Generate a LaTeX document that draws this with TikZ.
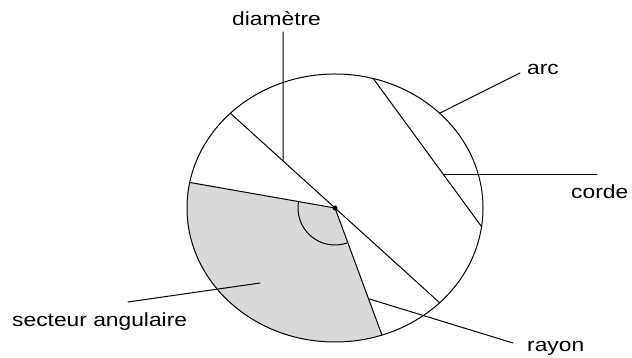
\documentclass[tikz,border=0pt]{standalone}
\usepackage{fontspec}
\newfontfamily\lblfont[FakeStretch=1.2]{Liberation Sans}
\usetikzlibrary{calc}
\tikzset{
  cline/.style={draw=black, line width=1pt},
  ptline/.style={draw=black, line width=1pt},
  secfill/.style={fill=black!15},
  lbl/.style={anchor=base west, inner sep=0pt,
    font=\lblfont\fontsize{19}{22}\selectfont},
  every picture/.style={line cap=round},
}
\begin{document}
\begin{tikzpicture}[x=1pt, y=1pt]
\useasboundingbox (0,0) rectangle (632,358);

% Points on the circle.
\coordinate (O) at (335,150);
\path (O) ++(169:148 and 134) coordinate (r1);
\path (O) ++(-71.5:148 and 134) coordinate (r2);
\path (O) ++(135:148 and 134) coordinate (d1);
\path (O) ++(315:148 and 134) coordinate (d2);
\path (O) ++(75:148 and 134) coordinate (c1);
\path (O) ++(-8:148 and 134) coordinate (c2);
\path (O) ++(45:148 and 134) coordinate (apt);

% Shaded sector, circle, diameter, chord, radii.
\fill[secfill] (O) -- (r1)
  arc[start angle=169, end angle=288.5, x radius=148, y radius=134] -- cycle;
\draw[cline] (O) ellipse [x radius=148, y radius=134];
\draw[cline] (d1) -- (d2);
\draw[cline] (c1) -- (c2);
\draw[cline] (r1) -- (O) -- (r2);
\draw[cline] (O) ++(170:37) arc[start angle=170, end angle=289, radius=37];
\fill (O) circle (2.5);

% Labels.
\node[lbl] (diam) at (232,332) {diamètre};
\node[lbl] (arc) at (527,283) {arc};
\node[lbl] (corde) at (571,159) {corde};
\node[lbl] (rayon) at (527,6) {rayon};
\node[lbl] (secteur) at (12,31) {secteur angulaire};

% Pointers from the labels.
\coordinate (dpt) at ($(d1)!0.2516!(d2)$);
\coordinate (dtop) at (283,326);
\draw[ptline] (dtop) -- (dpt);
\coordinate (aend) at (520,285);
\draw[ptline] (apt) -- (aend);
\coordinate (cpt) at ($(c1)!0.65!(c2)$);
\coordinate (cend) at (597,183);
\draw[ptline] (cpt) -- (cpt -| cend);
\coordinate (rpt) at ($(O)!0.714!(r2)$);
\coordinate (rend) at (513,15);
\draw[ptline] (rpt) -- (rend);
\coordinate (spt) at (260,75);
\coordinate (send) at (128,56);
\draw[ptline] (send) -- (spt);

\end{tikzpicture}
\end{document}
